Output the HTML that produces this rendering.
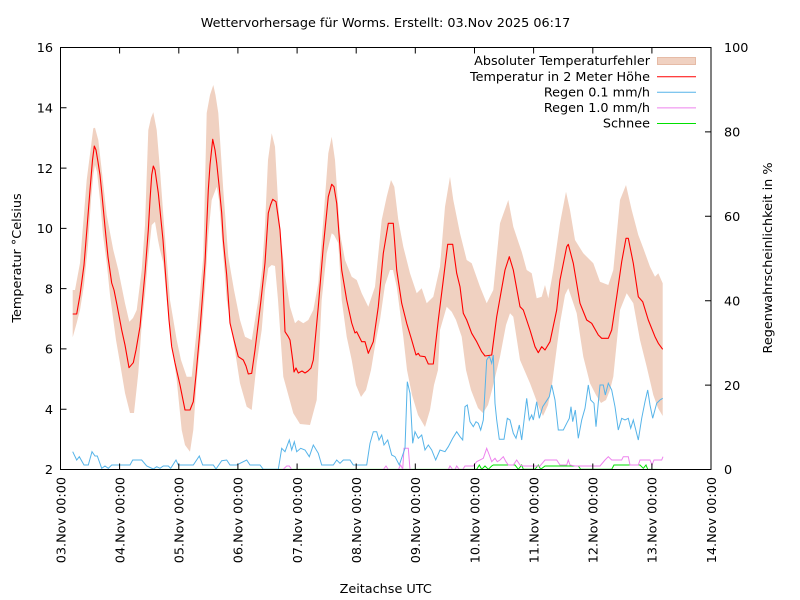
<!DOCTYPE html>
<html><head><meta charset="utf-8"><style>
html,body{margin:0;padding:0;background:#fff;}
svg{display:block;}
text{font-family:"DejaVu Sans","Liberation Sans",sans-serif;font-size:12.8px;fill:#000;}
</style></head><body>
<svg width="800" height="600" viewBox="0 0 800 600" xmlns="http://www.w3.org/2000/svg">
<rect x="0" y="0" width="800" height="600" fill="#fff"/>
<text x="385.5" y="27" text-anchor="middle">Wettervorhersage für Worms. Erstellt: 03.Nov 2025 06:17</text>

<!-- band -->
<polygon fill="#f0d1c1" stroke="none" points="
72.7,290 75,290 80,263 86.7,180 93.3,128.3 95,127.7 98.3,140 101.7,170 106.7,215 113.3,250 118.3,270 125,303.3 129.3,321.7 133,318 136.7,310 141.7,270 145,225 148.3,130 151,118 153.3,112.3 156.7,130 160,170 163.3,215 170,300 176.7,340 181,360 186.7,376.7 191.7,376.7 196.7,330 203.3,256.7 206.7,113 210,95 213.3,85 215.5,95 218.3,113 223.3,190 228.3,256.7 234,290 240,320 245,336.7 251.7,340 258.3,300 262,270 265,225 268,160 271.7,133.3 275,146.7 278.3,206.7 281.7,245 285,275 290,306.7 295,323.3 298.3,320 303.3,323.3 308.3,320 313.3,310 318.3,283.3 323.3,220 328.3,153.3 331.7,136.7 335,160 340,233.3 345,260 351.7,276.7 356.7,280 361.7,293.3 368.3,306.7 375,286.7 381.7,220 386.7,196.7 391,180 394.3,186.7 398.3,220 403.3,246.7 410,273.3 416.7,293.3 421.7,288.3 426.7,303.3 433.3,296.7 440,266.7 445,206.7 450,176.7 453.3,200 460,233.3 466.7,260 471.7,263.3 480,286.7 486.7,303.3 493.3,290 500,223.3 508.3,200 513.3,226.7 518.3,241.7 521.7,251.7 526.7,270 531.7,273.3 536.7,298.3 541.7,296.7 545,285 548.3,298.3 553.3,270 560,223.3 566,191.7 570,210 575,240 583.3,253.3 593.3,263.3 600,281.7 608.3,285 613.3,270 620,200 626,185 631.7,210 638.3,235 643.3,248.3 650,266.7 655,276.7 658.3,273.3 662.7,283.3
662.7,416 658,408 653.3,395 646.7,366.7 640,340 633.3,303.3 626.7,293.3 620,310 613.3,376.7 610,390 606,400 601,403 596,395 590,383.3 583.3,356.7 576.7,313.3 568.3,288.3 565,295 560,323.3 551.7,386.7 548,405 543,416 540,410 530,383.3 520,360 513.3,316.7 510,313.3 506,325 500,356.7 492,390 488,405 483,413 478,408 471,390 466,370 461.7,336.7 456,320 451.7,311.7 446.7,306.7 440,330 438,370 434,385 430,410 425,427 418,415 412,395 407,370 403.3,336.7 396.7,286.7 393,270 390,270 385,285 380,320 376,340 371,370 366,390 361,397 356,385 351.7,360 346.7,336.7 341.7,300 338.3,243.3 334,235 331.7,233.3 326.7,253.3 321.7,300 316.7,400 310,425 300,424 293.3,413.3 283.3,376.7 278,300 275,266 271.7,265 268.3,268 265,290 261.7,330 256.7,363.3 251.7,410 246.7,406.7 240,383.3 233.3,340 226.7,300 221.7,235 219,200 216.7,186.7 211.7,200 208.3,235 205,290 201.7,330 196.7,380 193.3,430 190,451.7 185,445 181.7,430 176.7,380 170,330 166.7,300 163.3,263 160,250 158,240 155,221.7 151.7,225 148,260 145,295 141.7,325 138.3,373 134,413 130,413 125,393 120,363 116,340 113.3,320 110,295 106.7,263 103,235 100,200 97,172 95,165 93.3,175 91,200 88,245 84,285 80,310 76.7,323 72.7,337.3"/>

<!-- snow -->
<polyline fill="none" stroke="#00e000" stroke-width="1" points="73,469.5 476.7,469.3 479.3,465 481.7,469.3 485,466 488.3,469.3 491.7,466 493.3,465 515,465 518.3,469.3 521.7,465 523.3,469.3 535,469.3 538.3,465 540.7,469.3 545,466 578.3,466 580.7,469.3 611.7,469.3 614,465 640,465 643.3,468.3 646,465 647.7,469.3 663,469.5"/>

<!-- rain 1.0 -->
<polyline fill="none" stroke="#ee82ee" stroke-width="1" points="73,469.5 283,469.5 286.7,466 289.3,466 291.7,469.5 383.3,469.5 386,466 388.3,469.5 398.3,469.5 400.7,465 402.7,469.3 404,448.3 408.3,448.3 410,469.5 448.3,469.5 450,466 452.7,469.5 455,469.5 456.7,466 459.3,469.5 462.7,469.5 465,466 473.3,466 476.7,461.7 483.3,458.3 486.7,448.3 489.3,455 491.7,461.7 495,458.3 497.3,461.7 500,460 503.3,456.7 506,461.7 508.3,465 513.3,465 516.7,460 520,465 523,466 540,466 545,460 556.7,460 560,465 566.7,465 568.3,460 570,465 575,466 600,466 605,460 608.3,456.7 611.7,460 621.7,460 623.3,456.7 628.3,456.7 630,465 638.3,465 640,460 650,460 652,465 654,460 661.7,460 663,456.7"/>

<!-- rain 0.1 -->
<polyline fill="none" stroke="#56b4e9" stroke-width="1" points="72.7,451.7 76.7,460 79.3,456.7 84,465 88.3,465 92,451.7 95,456 97.3,456 101.7,468.3 105,466 108.3,468.3 111.7,465 130,465 132.7,460 141.7,460 146.7,466 153.3,469 156.7,466.7 160,468.3 163.3,466 168.3,466 170.7,468.3 176,460 178.3,465 193.3,465 199.3,456 202.7,465 213.3,465 216,469 221.7,460.7 226.7,460 230,465 236.7,465 246.7,460 250,465 260,465 263.3,469.3 278.3,469.3 281.7,448.3 285,451.7 289.3,440 291.7,450 294.3,441.7 296.7,451.7 300.7,448.3 305,450 309.3,456.7 313.3,445 318.3,453.3 321.7,465 333.3,465 336.7,460 340,463.3 343.3,460 350,460 353.3,465 366.7,465 370,443.3 373.3,431.7 376.7,431.7 379,440 381.7,435 384,445 387.7,440 391.7,455 395,456.7 399.3,465 402.7,455 405,448.3 407.3,381.7 410,393.3 412.7,443.3 415,431.7 418.3,438.3 421.7,435 425,450 428.3,445 431.7,450 435.7,460 440,450 445,451.7 448.3,446.7 452.7,438.3 456.7,431.7 460,436.7 462.7,440 465,406.7 467.3,405 470,421.7 473.3,426.7 476,421.7 478.3,423.3 480.7,430 483.3,420 486.7,360 489.3,356 491.7,363.3 493.3,355 495,403.3 496.7,420 499.3,439.3 504,439.3 507.3,418.3 510,420 513.3,433.3 516,438.3 519.3,425 521.7,440 526.7,398.3 529.3,420 531.7,415 533.3,420 536.7,401.7 539.3,418.3 542.7,406.7 546,401.7 549.3,396.7 551.7,385 555,400 558.3,430 563.3,430 566.7,423.3 569.3,418.3 571,406.7 572.7,421.7 575.3,410 578.3,438.3 581.7,420 585,408.3 588.3,385 590.7,400 594,403.3 596,426.7 600,385 603.3,385 605.3,395 608.3,383.3 611.7,390 615,406.7 618.3,430 621.7,418.3 625,420 628.3,418.3 630.7,428.3 633.3,420 638.3,440 641.7,418.3 645,401.7 647.7,390 650,405 652.7,418.3 656.7,403.3 660,400 662.7,398.3"/>

<!-- temperature -->
<polyline fill="none" stroke="#ff0000" stroke-width="1.1" stroke-linejoin="round" points="72.7,314 76.7,314 80,295 84,265 87,228 90,190 92.5,160 94.3,146 96,150 98,162 100,175 102,195 105,227 108,257 111.7,283 114,290 117,305 121.7,330 125,345 129,367.7 133.3,362.7 136,350 140,326.7 145,273 148.3,230 150,200 151.7,175 153.3,166 155,170 158.3,193 160,210 163,240 166.7,290 169,320 171.7,346.7 175,363 180,385 182,395 185,410 190,410 193.3,401.7 196,375 200,330 205,263 208.3,190 210,165 212.7,139.3 215,150 216.7,163 219,185 221.7,213 223.3,240 226.7,275 230,323 234,340 238.3,356.7 243.3,360 246,366 248.3,374 251.7,373.3 255,350 258.3,323 261,300 265,263 268.3,213 270.5,205 272.7,199.3 276,201.7 280,230 282,260 285,331.7 288.3,336.7 290,340 292.7,360 294,372 296,368 298.3,373 302,371 305,373 308,371 311,368 313.3,360 318.3,306.7 323.3,246.7 328.3,196.7 331.7,184.3 334,186.7 336.7,203.3 341.7,270 346.7,300 351.7,323 355,333 356.7,331.7 361.7,341.7 365,341.7 368.3,353.3 373.3,341.7 378.3,306.7 383.3,253.3 388.3,223.3 393.3,223.3 396.7,270 401.7,303.3 406.7,323.3 411.7,340 416,355 418.3,353.3 420,356 425,356.7 428.3,364 433.3,364 438.3,320 443.3,280 447.7,244.3 452.7,244.3 456.7,273.3 460,286.7 463.3,313.3 466.7,320 471.7,333.3 476.7,341.7 481.7,351.7 485,356 491.7,355 496.7,316.7 505,270 509.3,256.7 513.3,270 520,306.7 523.3,310 530,330 535,346.7 538.3,352.7 541.7,346.7 545,350 550,341.7 556.7,310 560,280 566.7,246.7 568.3,244.3 573.3,263.3 580,303.3 586.7,320 591.7,323.3 598.3,335 601.7,338.3 608.3,338.3 611.7,330 616.7,296.7 621.7,261.7 626,238.3 628.3,238.3 633.3,263.3 638.3,296.7 642.7,301.7 648.3,320 655,336.7 658.3,343.3 662.7,349.3"/>

<!-- border -->
<rect x="60.5" y="47.5" width="650.5" height="422" fill="none" stroke="#000" stroke-width="1"/>

<!-- ticks -->
<g stroke="#000" stroke-width="1">
<path d="M60.5 47.5v6M119.6 47.5v6M178.8 47.5v6M237.9 47.5v6M297.1 47.5v6M356.2 47.5v6M415.3 47.5v6M474.5 47.5v6M533.6 47.5v6M592.8 47.5v6M651.9 47.5v6M711 47.5v6"/>
<path d="M60.5 469.5v-6M119.6 469.5v-6M178.8 469.5v-6M237.9 469.5v-6M297.1 469.5v-6M356.2 469.5v-6M415.3 469.5v-6M474.5 469.5v-6M533.6 469.5v-6M592.8 469.5v-6M651.9 469.5v-6M711 469.5v-6"/>
<path d="M60.5 47.5h6M60.5 107.8h6M60.5 168.1h6M60.5 228.4h6M60.5 288.6h6M60.5 348.9h6M60.5 409.2h6"/>
<path d="M711 47.5h-6M711 131.9h-6M711 216.3h-6M711 300.7h-6M711 385.1h-6"/>
</g>

<!-- left tick labels -->
<g text-anchor="end">
<text x="53" y="52.2">16</text>
<text x="53" y="112.5">14</text>
<text x="53" y="172.8">12</text>
<text x="53" y="233.1">10</text>
<text x="53" y="293.3">8</text>
<text x="53" y="353.6">6</text>
<text x="53" y="413.9">4</text>
<text x="53" y="474.2">2</text>
</g>
<!-- right tick labels -->
<g text-anchor="start">
<text x="724" y="52.2">100</text>
<text x="724" y="136.6">80</text>
<text x="724" y="221">60</text>
<text x="724" y="305.4">40</text>
<text x="724" y="389.8">20</text>
<text x="724" y="474.2">0</text>
</g>

<!-- x tick labels -->
<g text-anchor="end">
<text transform="translate(60.5,477) rotate(-90)" dy="0.37em">03.Nov 00:00</text>
<text transform="translate(119.6,477) rotate(-90)" dy="0.37em">04.Nov 00:00</text>
<text transform="translate(178.8,477) rotate(-90)" dy="0.37em">05.Nov 00:00</text>
<text transform="translate(237.9,477) rotate(-90)" dy="0.37em">06.Nov 00:00</text>
<text transform="translate(297.1,477) rotate(-90)" dy="0.37em">07.Nov 00:00</text>
<text transform="translate(356.2,477) rotate(-90)" dy="0.37em">08.Nov 00:00</text>
<text transform="translate(415.3,477) rotate(-90)" dy="0.37em">09.Nov 00:00</text>
<text transform="translate(474.5,477) rotate(-90)" dy="0.37em">10.Nov 00:00</text>
<text transform="translate(533.6,477) rotate(-90)" dy="0.37em">11.Nov 00:00</text>
<text transform="translate(592.8,477) rotate(-90)" dy="0.37em">12.Nov 00:00</text>
<text transform="translate(651.9,477) rotate(-90)" dy="0.37em">13.Nov 00:00</text>
<text transform="translate(711,477) rotate(-90)" dy="0.37em">14.Nov 00:00</text>
</g>

<!-- axis labels -->
<text transform="translate(21,258) rotate(-90)" text-anchor="middle">Temperatur °Celsius</text>
<text transform="translate(772,258) rotate(-90)" text-anchor="middle">Regenwahrscheinlichkeit in %</text>
<text x="385.7" y="593" text-anchor="middle">Zeitachse UTC</text>

<!-- legend -->
<g text-anchor="end">
<text x="650" y="65.2">Absoluter Temperaturfehler</text>
<text x="650" y="80.9">Temperatur in 2 Meter Höhe</text>
<text x="650" y="96.5">Regen 0.1 mm/h</text>
<text x="650" y="112.1">Regen 1.0 mm/h</text>
<text x="650" y="127.7">Schnee</text>
</g>
<rect x="657.5" y="57.5" width="38" height="7" fill="#f0d1c1" stroke="#e6bba6" stroke-width="1"/>
<line x1="657" y1="76.7" x2="696" y2="76.7" stroke="#ff0000" stroke-width="1"/>
<line x1="657" y1="92.3" x2="696" y2="92.3" stroke="#56b4e9" stroke-width="1"/>
<line x1="657" y1="107.9" x2="696" y2="107.9" stroke="#ee82ee" stroke-width="1"/>
<line x1="657" y1="123.5" x2="696" y2="123.5" stroke="#00e000" stroke-width="1"/>
</svg>
</body></html>
